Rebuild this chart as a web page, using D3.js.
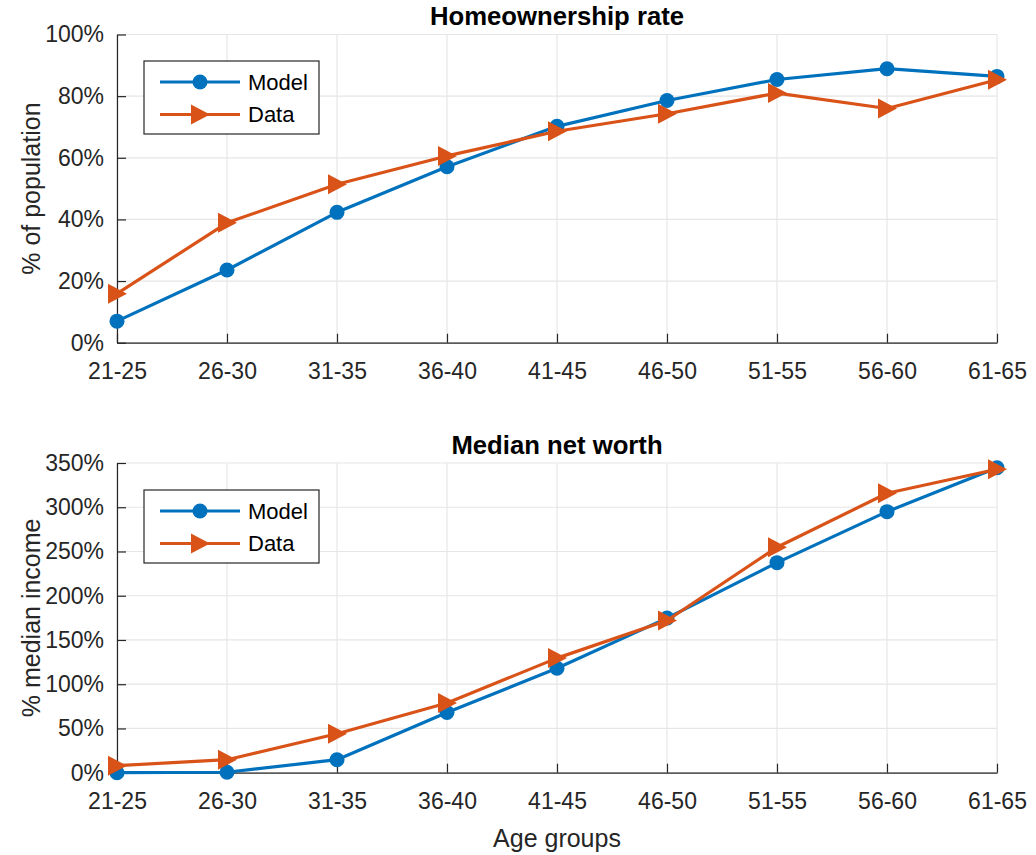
<!DOCTYPE html>
<html><head><meta charset="utf-8">
<script src="https://cdn.jsdelivr.net/npm/d3@7"></script>
<style>body{margin:0;background:#fff}svg{display:block}text{font-family:"Liberation Sans",Arial,sans-serif;fill:#262626}</style>
</head><body>
<script>
const ageGroups = ["21-25","26-30","31-35","36-40","41-45","46-50","51-55","56-60","61-65"];
const homeModel = [7, 23.6, 42.3, 57.1, 70.2, 78.6, 85.4, 88.9, 86.4];
const homeData  = [15.9, 38.9, 51.4, 60.6, 68.6, 74.3, 81.0, 76.0, 85.3];
const nwModel = [0, 0.5, 14.7, 68, 118, 174.7, 237.4, 295, 344.7];
const nwData  = [7.9, 14.7, 44, 78.7, 129.5, 172, 254.8, 315.8, 343];
const homeTicks = [0,20,40,60,80,100];
const nwTicks = [0,50,100,150,200,250,300,350];
const seriesNames = ["Model","Data"];
const colors = ["#0072BD","#D95319"];

const W=1036,H=855;
const svg=d3.select("body").append("svg").attr("width",W).attr("height",H);

function panel(cfg){
  const {top,bottom,left,right,ymax,ticks,title,ylabel,series,legendTop,xlabel}=cfg;
  const x=d3.scalePoint().domain(ageGroups).range([left,right]);
  const y=d3.scaleLinear().domain([0,ymax]).range([bottom,top]);
  const g=svg.append("g");
  // grid
  g.append("g").selectAll("line").data(ticks).join("line")
    .attr("x1",left).attr("x2",right).attr("y1",d=>y(d)).attr("y2",d=>y(d))
    .attr("stroke","#e6e6e6").attr("stroke-width",1.2);
  g.append("g").selectAll("line").data(ageGroups).join("line")
    .attr("x1",d=>x(d)).attr("x2",d=>x(d)).attr("y1",top).attr("y2",bottom)
    .attr("stroke","#e6e6e6").attr("stroke-width",1.2);
  // axes
  const ya=g.append("g").attr("transform",`translate(${left},0)`)
    .call(d3.axisLeft(y).tickValues(ticks).tickSizeInner(-9).tickSizeOuter(0).tickPadding(13).tickFormat(d=>d+"%"));
  const xa=g.append("g").attr("transform",`translate(0,${bottom})`)
    .call(d3.axisBottom(x).tickSizeInner(-9).tickSizeOuter(0).tickPadding(17));
  [ya,xa].forEach(a=>{
    a.select(".domain").attr("stroke","#262626").attr("stroke-width",1.2);
    a.selectAll(".tick line").attr("stroke","#262626").attr("stroke-width",1.2);
    a.selectAll("text").attr("font-size",23).attr("fill","#262626").style("font-family","Liberation Sans, Arial, sans-serif");
  });
  xa.selectAll("text").attr("dy","0.85em");
  // title
  g.append("text").attr("x",(left+right)/2).attr("y",top-9.5).attr("text-anchor","middle")
    .attr("font-size",25.7).attr("font-weight","bold").style("fill","#000").text(title);
  g.append("text").attr("transform",`translate(40,${(top+bottom)/2}) rotate(-90)`)
    .attr("text-anchor","middle").attr("font-size",25).text(ylabel);
  if(xlabel) g.append("text").attr("x",(left+right)/2).attr("y",bottom+74).attr("text-anchor","middle").attr("font-size",25).text(xlabel);
  const line=d3.line().x((d,i)=>x(ageGroups[i])).y(d=>y(d));
  const tri=d3.symbol().type({draw(ctx,s){ctx.moveTo(10,0);ctx.lineTo(-9,-10);ctx.lineTo(-9,10);ctx.closePath();}}).size(1);
  series.forEach((s,k)=>{
    g.append("path").datum(s).attr("d",line).attr("fill","none").attr("stroke",colors[k]).attr("stroke-width",3.2).attr("stroke-linejoin","round");
    const m=g.append("g").selectAll("path").data(s).join("path")
      .attr("transform",(d,i)=>`translate(${x(ageGroups[i])},${y(d)})`)
      .attr("fill",colors[k]);
    if(k===0) m.attr("d",d3.symbol().type(d3.symbolCircle).size(Math.PI*7.5*7.5)());
    else m.attr("d",tri());
  });
  // legend
  const lg=g.append("g").attr("transform",`translate(144,${legendTop})`);
  lg.append("rect").attr("width",175).attr("height",73).attr("fill","#fff").attr("stroke","#262626").attr("stroke-width",1.2);
  seriesNames.forEach((n,k)=>{
    const yy=21+k*32.5;
    lg.append("line").attr("x1",16).attr("x2",96).attr("y1",yy).attr("y2",yy).attr("stroke",colors[k]).attr("stroke-width",3.2);
    const mk=lg.append("path").attr("transform",`translate(56,${yy})`).attr("fill",colors[k]);
    if(k===0) mk.attr("d",d3.symbol().type(d3.symbolCircle).size(Math.PI*7.5*7.5)());
    else mk.attr("d",tri());
    lg.append("text").attr("x",104).attr("y",yy).attr("dy","0.36em").attr("font-size",22).style("fill","#000").text(n);
  });
}
panel({top:34.5,bottom:342.7,left:117,right:997,ymax:100,ticks:homeTicks,title:"Homeownership rate",ylabel:"% of population",series:[homeModel,homeData],legendTop:61});
panel({top:463,bottom:772.7,left:117,right:997,ymax:350,ticks:nwTicks,title:"Median net worth",ylabel:"% median income",series:[nwModel,nwData],legendTop:490,xlabel:"Age groups"});
</script>
</body></html>
